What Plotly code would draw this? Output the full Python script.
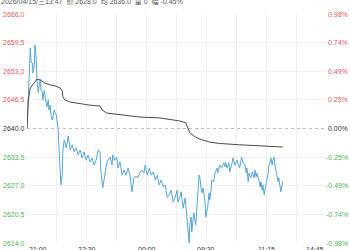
import plotly.graph_objects as go

# minute index from 21:00 (night 21:00-01:00, day 09:00-10:15, 10:30-11:30, 13:30-15:00)
price_idx = [0, 2, 5, 6, 8, 9, 11, 12, 14, 15, 17, 18, 20, 21, 23, 24, 26, 27, 29, 30,
             32, 33, 35, 36, 38, 39, 41, 42, 44, 45, 47, 48, 50, 51, 53, 54, 56, 59, 62, 65,
             68, 71, 74, 77, 80, 83, 86, 89, 92, 95, 98, 101, 104, 107, 110, 111, 114, 117, 120, 122,
             125, 128, 129, 132, 135, 137, 140, 143, 146, 149, 152, 155, 158, 161, 164, 167, 170, 173, 176, 178,
             181, 184, 187, 190, 193, 196, 199, 202, 205, 208, 211, 214, 217, 220, 223, 226, 227, 230, 232, 235,
             238, 239, 242, 244, 245, 247, 248, 251, 254, 257, 259, 260, 263, 265, 268, 269, 272, 274, 275, 277,
             278, 281, 283, 286, 287, 290, 293, 296, 298, 299, 301, 304, 305, 308, 310, 313, 316, 317, 320, 322,
             323, 325, 328, 330, 331, 333, 334, 337, 339, 342, 343, 345, 346, 349, 351, 352, 354, 355, 357, 358,
             360, 361, 363, 364, 366, 367, 369, 370, 372, 373, 375, 376, 378, 379, 381, 382, 385]
price = [2640.0, 2648.7, 2658.3, 2655.1, 2654.9, 2652.6, 2654.4, 2659.0, 2655.6, 2651.0,
         2648.1, 2649.4, 2651.2, 2648.7, 2648.3, 2646.5, 2648.7, 2647.6, 2646.0, 2644.9,
         2646.5, 2644.2, 2645.3, 2643.1, 2641.9, 2643.1, 2644.2, 2643.7, 2643.1, 2641.9,
         2639.7, 2636.3, 2631.7, 2627.2, 2629.4, 2635.1, 2637.4, 2635.6, 2638.3, 2635.1,
         2636.3, 2634.7, 2635.6, 2634.0, 2635.1, 2633.3, 2634.7, 2632.8, 2634.0, 2632.4,
         2633.3, 2631.7, 2632.8, 2635.1, 2634.7, 2630.6, 2626.5, 2629.9, 2632.2, 2632.8,
         2633.5, 2631.7, 2634.0, 2632.8, 2633.5, 2631.0, 2632.4, 2629.4, 2630.6, 2629.4,
         2631.0, 2629.4, 2625.6, 2628.8, 2629.2, 2628.8, 2630.1, 2630.6, 2629.9, 2631.7,
         2629.4, 2631.0, 2629.4, 2630.1, 2628.3, 2629.4, 2627.2, 2628.3, 2626.7, 2627.2,
         2624.4, 2624.9, 2626.0, 2623.3, 2624.4, 2626.0, 2623.3, 2624.4, 2625.6, 2621.9,
         2624.2, 2622.6, 2616.3, 2614.0, 2618.1, 2619.9, 2616.5, 2620.8, 2618.1, 2626.0,
         2629.4, 2629.0, 2625.4, 2626.5, 2623.1, 2619.9, 2622.2, 2625.4, 2623.8, 2626.0,
         2628.3, 2627.9, 2629.9, 2631.0, 2629.9, 2631.7, 2631.0, 2632.2, 2631.3, 2632.4,
         2631.0, 2632.2, 2630.1, 2631.7, 2633.3, 2631.7, 2632.8, 2632.2, 2631.0, 2632.8,
         2633.5, 2632.2, 2631.7, 2629.9, 2631.0, 2627.9, 2629.9, 2628.8, 2630.1, 2628.8,
         2630.6, 2629.0, 2629.9, 2628.3, 2626.7, 2627.9, 2626.0, 2627.2, 2624.9, 2626.0,
         2627.6, 2628.8, 2629.9, 2631.7, 2632.4, 2633.3, 2631.7, 2632.8, 2633.5, 2631.7,
         2630.1, 2628.8, 2627.9, 2628.8, 2625.6, 2625.6, 2628.0]

avg_idx = [0, 2, 5, 9, 15, 20, 27, 35, 42, 50, 53, 54, 57, 65, 80, 95, 110, 113, 120, 140,
           170, 200, 230, 239, 242, 245, 253, 260, 275, 290, 320, 351, 385]
avg = [2639.9, 2646.5, 2649.2, 2650.1, 2651.2, 2651.0, 2650.3, 2649.9, 2649.7, 2649.2,
       2648.5, 2647.2, 2646.5, 2646.0, 2645.6, 2645.3, 2645.1, 2644.2, 2643.5, 2643.1,
       2642.6, 2642.4, 2641.7, 2641.3, 2639.9, 2639.0, 2638.1, 2637.6, 2636.9, 2636.6,
       2636.3, 2636.0, 2635.8]

prev_close = 2640.0
y_levels = [2666.0, 2659.5, 2653.0, 2646.5, 2640.0, 2633.5, 2627.0, 2620.5, 2614.0]
pct_labels = ["0.98%", "0.74%", "0.49%", "0.25%", "0.00%", "-0.25%", "-0.49%", "-0.74%", "-0.98%"]
grid_x = [0, 45, 90, 135, 180, 225, 270, 315, 360, 405, 450]
label_x = [0, 90, 180, 270, 360, 450]
x_labels = ["21:00", "22:30", "00:00", "09:30", "11:15", "14:45"]
title_text = "2026/04/15/三13:47  价 2628.0  均 2636.0  量 0  幅 -0.45%"

RED = "#e0585c"
GREEN = "#4fb04f"
DARK = "#333333"
FONT = "Liberation Sans, Noto Sans CJK SC, sans-serif"

fig = go.Figure()
fig.add_trace(go.Scatter(x=price_idx, y=price, mode="lines",
                         line=dict(color="#55a6d6", width=1), hoverinfo="skip"))
fig.add_trace(go.Scatter(x=avg_idx, y=avg, mode="lines",
                         line=dict(color="#524646", width=1), hoverinfo="skip"))

fig.add_shape(type="line", xref="paper", x0=0, x1=1, yref="y", y0=prev_close, y1=prev_close,
              line=dict(color="#bbbbbb", width=1, dash="3px,3px"))

annotations = []
for lv, pl in zip(y_levels, pct_labels):
    col = RED if lv > prev_close else (GREEN if lv < prev_close else DARK)
    annotations.append(dict(x=0, xref="paper", y=lv, yref="y", text=f"{lv:.1f}",
                            xanchor="right", yanchor="middle", showarrow=False, xshift=0,
                            font=dict(size=7, color=col, family=FONT)))
    annotations.append(dict(x=1, xref="paper", y=lv, yref="y", text=pl,
                            xanchor="right", yanchor="middle", showarrow=False, xshift=24,
                            font=dict(size=7, color=col, family=FONT)))
for i, (xv, xl) in enumerate(zip(label_x, x_labels)):
    anchor = "left" if i == 0 else ("right" if i == len(label_x) - 1 else "center")
    annotations.append(dict(x=xv, xref="x", y=0, yref="paper", text=xl,
                            xanchor=anchor, yanchor="top", showarrow=False, yshift=-1,
                            font=dict(size=7, color="#333333", family=FONT)))
annotations.append(dict(x=0, xref="paper", y=1, yref="paper", text=title_text,
                        xanchor="left", yanchor="middle", showarrow=False, xshift=-28, yshift=13,
                        font=dict(size=7, color="#555555", family=FONT)))

fig.update_layout(
    width=350, height=250,
    margin=dict(l=27, r=24, t=14, b=7),
    paper_bgcolor="white", plot_bgcolor="white",
    showlegend=False,
    annotations=annotations,
    font=dict(family=FONT, size=7, color="#333333"),
    xaxis=dict(range=[0, 450], tickvals=grid_x, showticklabels=False, showgrid=True,
               gridcolor="#efefef", gridwidth=1, zeroline=False, showline=False,
               ticks="", automargin=False),
    yaxis=dict(range=[2614, 2666], tickvals=[v for v in y_levels if v != prev_close],
               showticklabels=False, showgrid=True, gridcolor="#efefef", gridwidth=1,
               zeroline=False, showline=False, ticks="", automargin=False),
)

fig.write_html("out.html")
